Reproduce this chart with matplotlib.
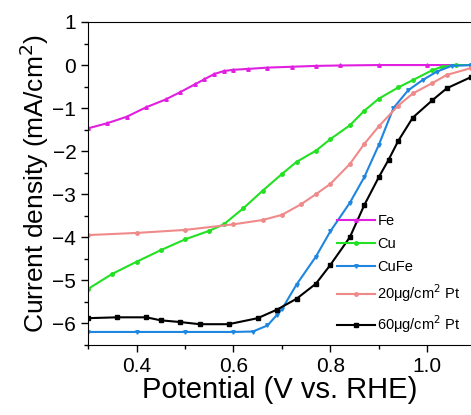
import numpy as np
import matplotlib.pyplot as plt
from matplotlib.ticker import MultipleLocator

plt.rcParams['font.family'] = ['Liberation Sans', 'DejaVu Sans']

# potentials (V vs RHE) and current densities (mA/cm2)
fe_x = [0.30, 0.34, 0.38, 0.42, 0.46, 0.49, 0.52, 0.54, 0.56, 0.58, 0.60, 0.63, 0.67, 0.72, 0.77, 0.82, 0.90, 1.00, 1.09]
fe_y = [-1.47, -1.35, -1.20, -0.98, -0.80, -0.63, -0.45, -0.33, -0.21, -0.14, -0.11, -0.09, -0.06, -0.04, -0.02, -0.01, 0.0, 0.0, 0.0]

cu_x = [0.30, 0.35, 0.40, 0.45, 0.50, 0.55, 0.58, 0.62, 0.66, 0.70, 0.73, 0.77, 0.80, 0.84, 0.87, 0.90, 0.94, 0.97, 1.01, 1.03, 1.06, 1.09]
cu_y = [-5.20, -4.85, -4.57, -4.30, -4.05, -3.85, -3.70, -3.33, -2.92, -2.53, -2.25, -1.99, -1.72, -1.40, -1.06, -0.78, -0.52, -0.35, -0.12, -0.04, 0.0, 0.0]

cufe_x = [0.30, 0.40, 0.50, 0.60, 0.64, 0.67, 0.69, 0.70, 0.73, 0.77, 0.80, 0.84, 0.87, 0.90, 0.93, 0.96, 0.99, 1.02, 1.05, 1.09]
cufe_y = [-6.20, -6.20, -6.20, -6.20, -6.19, -6.05, -5.80, -5.67, -5.10, -4.45, -3.86, -3.20, -2.60, -1.85, -1.00, -0.59, -0.35, -0.15, -0.02, 0.0]

pt20_x = [0.30, 0.40, 0.50, 0.60, 0.66, 0.70, 0.74, 0.77, 0.80, 0.84, 0.87, 0.90, 0.94, 0.97, 1.01, 1.04, 1.09]
pt20_y = [-3.95, -3.90, -3.83, -3.70, -3.60, -3.48, -3.23, -3.00, -2.76, -2.30, -1.83, -1.42, -0.94, -0.66, -0.42, -0.23, -0.07]

pt60_x = [0.30, 0.36, 0.42, 0.45, 0.49, 0.53, 0.59, 0.65, 0.69, 0.73, 0.77, 0.80, 0.84, 0.87, 0.90, 0.92, 0.94, 0.97, 1.01, 1.04, 1.09]
pt60_y = [-5.88, -5.86, -5.86, -5.93, -5.97, -6.02, -6.02, -5.88, -5.68, -5.43, -5.08, -4.64, -4.00, -3.25, -2.60, -2.20, -1.76, -1.22, -0.82, -0.54, -0.28]

series = [
    (fe_x, fe_y, 'Fe', '#e01fe0', '^'),
    (cu_x, cu_y, 'Cu', '#22e022', 'o'),
    (cufe_x, cufe_y, 'CuFe', '#1f86e0', 'v'),
    (pt20_x, pt20_y, r'20$\mathregular{\mu}$g/cm$^2$ Pt', '#f08a8a', 'o'),
    (pt60_x, pt60_y, r'60$\mathregular{\mu}$g/cm$^2$ Pt', 'black', 's'),
]

fig = plt.figure(figsize=(4.71, 4.15), dpi=100)
ax = fig.add_axes([0.187, 0.169, 0.813, 0.778])

for x, y, lab, c, m in series:
    ax.plot(x, y, color=c, lw=1.5, marker=m, ms=2.5, label=lab)

ax.set_xlim(0.3, 1.09)
ax.set_ylim(-6.5, 1.0)
ax.xaxis.set_minor_locator(MultipleLocator(0.1))
ax.yaxis.set_major_locator(MultipleLocator(1))
ax.yaxis.set_minor_locator(MultipleLocator(0.5))
ax.set_xticks([0.4, 0.6, 0.8, 1.0])
ax.set_xticklabels(['0.4', '0.6', '0.8', '1.0'])
ax.tick_params(which='major', direction='out', length=5, labelsize=15, width=1)
ax.tick_params(which='minor', direction='out', length=3, width=1)
ax.spines['right'].set_visible(False)

ax.set_xlabel('Potential (V vs. RHE)', fontsize=21, labelpad=0)
ax.set_ylabel('Current density (mA/cm$^2$)', fontsize=19, labelpad=1)

ax.legend(loc='lower right', frameon=False, fontsize=10.5, handlelength=2.6,
          handletextpad=0.2, labelspacing=0.6, borderaxespad=0.3, markerscale=1)

fig.savefig('out.png', dpi=100)
